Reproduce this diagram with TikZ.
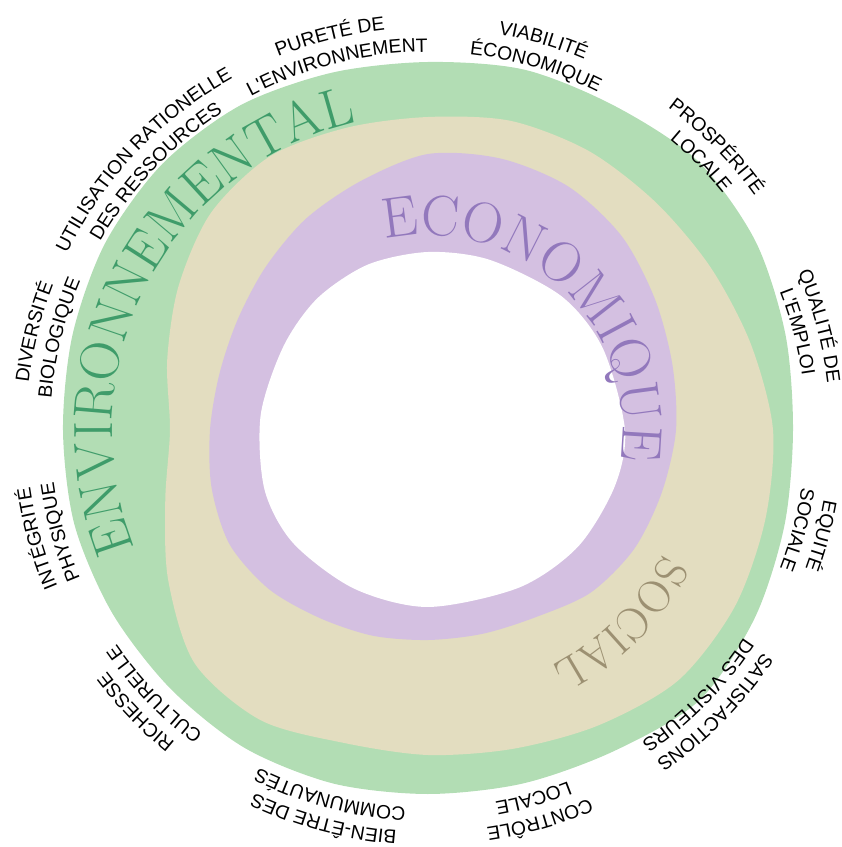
\documentclass[tikz,border=0pt]{standalone}
\usepackage{fontspec}
\newfontfamily\labelfont{Liberation Sans}
\usetikzlibrary{decorations.text}
\definecolor{envgreen}{RGB}{178,221,180}
\definecolor{soctan}{RGB}{227,221,192}
\definecolor{ecopurple}{RGB}{212,192,225}
\definecolor{envtext}{RGB}{63,156,106}
\definecolor{ecotext}{RGB}{146,120,188}
\definecolor{soctext}{RGB}{156,144,114}
\newcommand{\ringfont}{\labelfont\fontsize{11}{13}\selectfont}
\newcommand{\bandfont}{\rmfamily\fontsize{31.5}{32}\selectfont}

\begin{document}
\begin{tikzpicture}[x=0.02cm, y=0.02cm]
  \useasboundingbox (-428,-417) rectangle (413,430);
  % the three bands
  \fill[envgreen] plot[smooth cycle] coordinates {(0:365) (15:370) (30:378) (45:381) (60:374) (75:373) (90:368) (105:370) (120:375) (135:376) (150:373) (165:368) (180:365) (195:366) (210:365) (225:365) (240:367) (255:366) (270:364) (285:366) (300:371) (315:383) (330:377) (345:369)};
  \fill[soctan] plot[smooth cycle] coordinates {(0:345) (15:334) (30:326) (45:322) (60:322) (75:320) (90:313) (105:313) (120:316) (135:307) (150:288) (165:270) (180:258) (195:272) (210:300) (225:330) (240:335) (255:324) (270:325) (285:330) (300:341) (315:354) (330:354) (345:349)};
  \fill[ecopurple] plot[smooth cycle] coordinates {(0:248) (15:253) (30:262) (45:274) (60:281) (75:281) (90:276) (105:258) (120:244) (135:230) (150:220) (165:216) (180:218) (195:224) (210:229) (225:225) (240:217) (255:213) (270:210) (285:211) (300:216) (315:230) (330:238) (345:242)};
  \fill[white] plot[smooth cycle] coordinates {(0:197) (25:193) (45:189) (70:181) (90:178) (110:176) (130:172) (150:167) (175:168) (200:174) (220:176) (245:175) (270:177) (300:182) (322:190) (343:195)};
  % band names
  \path[decorate, decoration={text along path, text align=center, text color=envtext, text={|\bandfont|ENVIRONNEMENTAL}}]
    (222:316) arc[start angle=222, end angle=83, radius=316];
  \path[decorate, decoration={text along path, text align=center, text color=ecotext, text={|\rmfamily\fontsize{32.5}{33}\selectfont|ECONOMIQUE}}]
    (127:195) arc[start angle=127, end angle=-33, radius=195];
  \path[decorate, decoration={text along path, text align=center, text color=soctext, text={|\rmfamily\fontsize{26}{26}\selectfont|SOCIAL}}]
    (25:266) arc[start angle=25, end angle=-115, radius=266];
  % criteria round the circle
  \foreach \ang/\lineone/\linetwo in {104/PURETÉ DE/L'ENVIRONNEMENT,
      73.5/VIABILITÉ/ÉCONOMIQUE,
      44.5/PROSPÉRITÉ/LOCALE,
      14.9/QUALITÉ DE/L'EMPLOI,
      -15.1/EQUITÉ/SOCIALE,
      -44.5/SATISFACTIONS/DES VISITEURS,
      -74/CONTRÔLE/LOCALE,
      -105/BIEN-ÊTRE DES/COMMUNAUTÉS,
      -136/RICHESSE/CULTURELLE,
      -164.5/INTÉGRITÉ/PHYSIQUE,
      166/DIVERSITÉ/BIOLOGIQUE,
      136.5/UTILISATION RATIONELLE/DES RESSOURCES} {
    \path[decorate, decoration={text along path, text align=center, text/.expanded={|\noexpand\ringfont|\lineone}}]
      (\ang+22:402) arc[start angle=\ang+22, end angle=\ang-22, radius=402];
    \path[decorate, decoration={text along path, text align=center, text/.expanded={|\noexpand\ringfont|\linetwo}}]
      (\ang+22:378) arc[start angle=\ang+22, end angle=\ang-22, radius=378];
  }
\end{tikzpicture}
\end{document}
